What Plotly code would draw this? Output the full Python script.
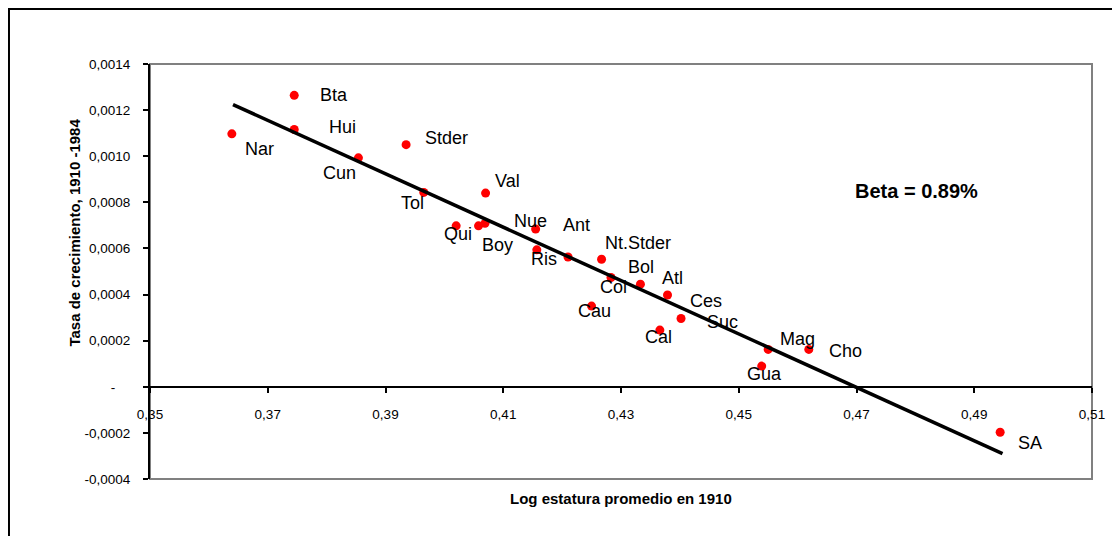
import plotly.graph_objects as go

# departments, log height in 1910, growth rate 1910-1984
names = ["Nar", "Bta", "Hui", "Cun", "Stder", "Tol", "Val", "Qui", "", "Boy",
         "Nue", "Ris", "Ant", "Nt.Stder", "Col", "Bol", "Atl", "Ces", "Suc",
         "Cal", "Cau", "Mag", "Cho", "Gua", "SA"]
log_height = [0.3639, 0.3745, 0.3745, 0.3854, 0.3935, 0.3965, 0.4070, 0.4020, 0.4058, 0.4069,
              0.4155, 0.4157, 0.4210, 0.4267, 0.4283, 0.4333, 0.4379, 0.4417, 0.4402,
              0.4366, 0.4250, 0.4550, 0.4619, 0.4539, 0.4944]
growth = [0.001097, 0.001264, 0.001116, 0.000993, 0.001050, 0.000843, 0.000840, 0.000698, 0.000698, 0.000709,
          0.000684, 0.000594, 0.000563, 0.000553, 0.000474, 0.000445, 0.000398, 0.000326, 0.000296,
          0.000246, 0.000350, 0.000162, 0.000162, 0.0000896, -0.000197]

# fitted trend line end points
fit_x = [0.3641, 0.4948]
fit_y = [0.001224, -0.000290]

x_ticks = [0.35, 0.37, 0.39, 0.41, 0.43, 0.45, 0.47, 0.49, 0.51]
x_labels = ["0,35", "0,37", "0,39", "0,41", "0,43", "0,45", "0,47", "0,49", "0,51"]
y_ticks = [-0.0004, -0.0002, 0, 0.0002, 0.0004, 0.0006, 0.0008, 0.0010, 0.0012, 0.0014]
y_labels = ["-0,0004", "-0,0002", "-\u00a0\u00a0\u00a0\u00a0", "0,0002", "0,0004", "0,0006",
            "0,0008", "0,0010", "0,0012", "0,0014"]

# label offsets in screen pixels (dx right, dy down)
label_offsets = {
    "Nar": (28, 15), "Bta": (40, 0), "Hui": (48, -2), "Cun": (-19, 15), "Stder": (40, -7),
    "Tol": (-11, 11), "Val": (22, -12), "Qui": (2, 8), "Boy": (12, 22), "Nue": (-5, -8),
    "Ris": (7, 9), "Ant": (8, -32), "Nt.Stder": (36, -16), "Col": (3, 10), "Bol": (1, -17),
    "Atl": (5, -17), "Ces": (16, -11), "Suc": (41, 3), "Cal": (-1, 7), "Cau": (3, 5),
    "Mag": (29, -10), "Cho": (37, 2), "Gua": (3, 8), "SA": (30, 11),
}

FONT = "Liberation Sans, Arial, sans-serif"

# the Ces dot sits under the trend line in the original, so it is not visible
marker_colors = ["rgba(0,0,0,0)" if n == "Ces" else "#ff0000" for n in names]

fig = go.Figure()
fig.add_trace(go.Scatter(x=log_height, y=growth, mode="markers",
                         marker=dict(color=marker_colors, size=9, line=dict(width=0))))
fig.add_trace(go.Scatter(x=fit_x, y=fit_y, mode="lines", line=dict(color="black", width=3.5)))

for name, x, y in zip(names, log_height, growth):
    if not name:
        continue
    dx, dy = label_offsets[name]
    fig.add_annotation(x=x, y=y, text=name, showarrow=False, xshift=dx, yshift=-dy,
                       font=dict(family=FONT, size=18, color="black"))

fig.add_annotation(x=0.4802, y=0.00085, text="<b>Beta = 0.89%</b>", showarrow=False,
                   font=dict(family=FONT, size=20, color="black"))
fig.add_annotation(xref="paper", yref="paper", x=-0.0913, y=0.595, text="<b>Tasa de crecimiento, 1910 -1984</b>",
                   textangle=-90, showarrow=False, font=dict(family=FONT, size=15, color="black"))
fig.add_annotation(xref="paper", yref="paper", x=0.5, y=-0.072, text="<b>Log estatura promedio en 1910</b>",
                   showarrow=False, font=dict(family=FONT, size=15, color="black"))

# gray plot-area frame and outer chart border
fig.add_shape(type="rect", xref="paper", yref="paper", x0=0, x1=1, y0=0, y1=1,
              line=dict(color="#808080", width=2), layer="below")
fig.add_shape(type="rect", xref="paper", yref="paper", x0=-0.1497, x1=1.04, y0=-0.16, y1=1.1325,
              line=dict(color="black", width=2), layer="below")

# the page body adds an 8px offset, so margins are shifted to compensate
fig.update_layout(
    width=1120, height=536,
    margin=dict(l=142, r=36, t=56, b=65),
    paper_bgcolor="white", plot_bgcolor="white",
    showlegend=False,
    font=dict(family=FONT, size=13.5, color="black"),
    xaxis=dict(range=[0.35, 0.51], tickvals=x_ticks, ticktext=x_labels, anchor="free", position=2 / 9,
               showline=True, linecolor="black", linewidth=2, ticks="outside", ticklen=5, tickwidth=2,
               tickcolor="black", showgrid=False, zeroline=False, ticklabelstandoff=10),
    yaxis=dict(range=[-0.0004, 0.0014], tickvals=y_ticks, ticktext=y_labels,
               showline=True, linecolor="black", linewidth=2, ticks="outside", ticklen=5, tickwidth=2,
               tickcolor="black", showgrid=False, zeroline=False, ticklabelstandoff=10),
)

fig.write_html("out.html")
